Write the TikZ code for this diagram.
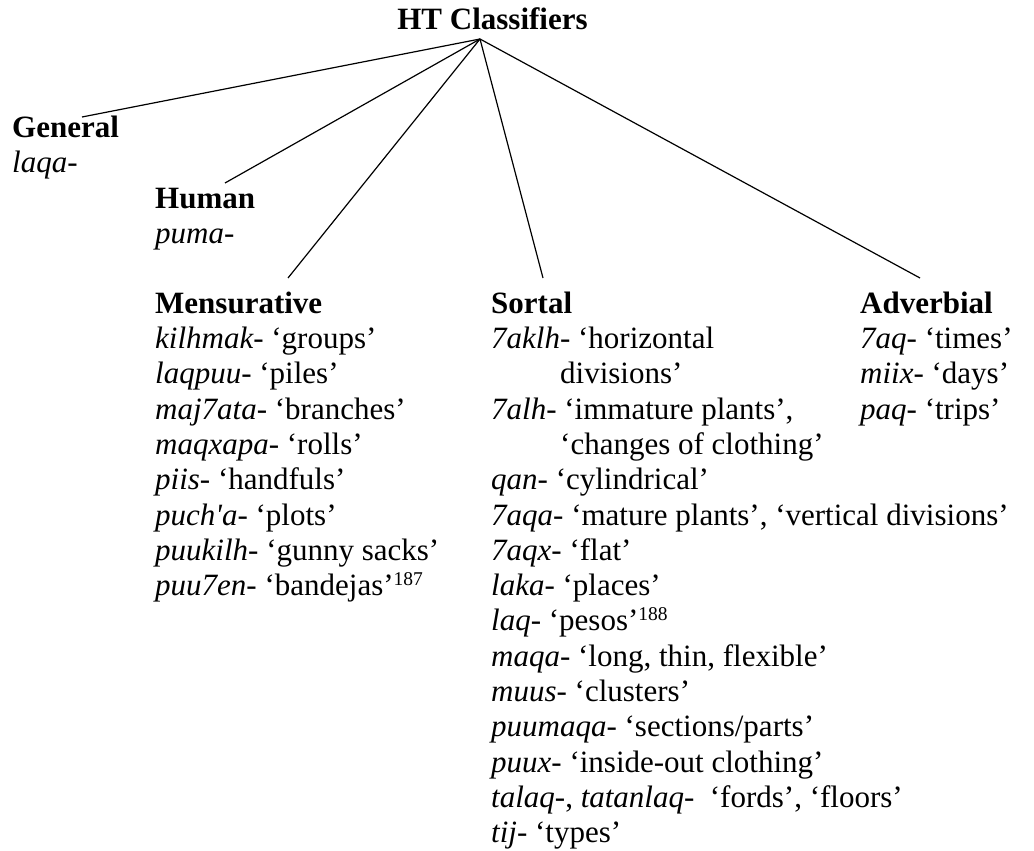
\documentclass[tikz,border=0pt]{standalone}
\usepackage{fontspec}
\setmainfont{Liberation Serif}
\usepackage{tikz}
\usetikzlibrary{calc}
\newcommand\classfont{\fontsize{31}{35.3}\selectfont}
\newcommand\supnum[1]{\raisebox{10.5pt}{\fontsize{19.5}{19.5}\selectfont #1}}
\tikzset{
	group/.style={align=left, inner sep=0pt, anchor=north west, font=\classfont},
	branch/.style={line width=1.2pt}
}

\begin{document}
\begin{tikzpicture}[x=1pt, y=1pt]
	\useasboundingbox (0,0) rectangle (1034,-851);
	
	%% -- Root of the tree
	\node[font=\classfont\bfseries, inner sep=0pt, anchor=base] (root)
	at (492.5,-30) {HT Classifiers};
	\coordinate (apex) at ($(root.base)+(-12.5,-9)$);
	
	%% -- Classifier groups
	\node[group] (gen) at (12,-112.3)
	{\strut\textbf{General}\\
		\textit{laqa-}};
	
	\node[group] (hum) at (155,-183.3)
	{\strut\textbf{Human}\\
		\textit{puma-}};
	
	\node[group] (mens) at (155,-288.3)
	{\strut\textbf{Mensurative}\\
		\textit{kilhmak-} ‘groups’\\
		\textit{laqpuu-} ‘piles’\\
		\textit{maj7ata-} ‘branches’\\
		\textit{maqxapa-} ‘rolls’\\
		\textit{piis-} ‘handfuls’\\
		\textit{puch\textquotesingle a-} ‘plots’\\
		\textit{puukilh-} ‘gunny sacks’\\
		\textit{puu7en-} ‘bandejas’\supnum{187}};
	
	\node[group] (sort) at (491,-288.3)
	{\strut\textbf{Sortal}\\
		\textit{7aklh-} ‘horizontal\\
		\hspace*{69pt}divisions’\\
		\textit{7alh-} ‘immature plants’,\\
		\hspace*{69pt}‘changes of clothing’\\
		\textit{qan-} ‘cylindrical’\\
		\textit{7aqa-} ‘mature plants’, ‘vertical divisions’\\
		\textit{7aqx-} ‘flat’\\
		\textit{laka-} ‘places’\\
		\textit{laq-} ‘pesos’\supnum{188}\\
		\textit{maqa-} ‘long, thin, flexible’\\
		\textit{muus-} ‘clusters’\\
		\textit{puumaqa-} ‘sections/parts’\\
		\textit{puux-} ‘inside-out clothing’\\
		\textit{talaq-}, \textit{tatanlaq-}\ \ ‘fords’, ‘floors’\\
		\textit{tij-} ‘types’};
	
	\node[group] (adv) at (860,-288.3)
	{\strut\textbf{Adverbial}\\
		\textit{7aq-} ‘times’\\
		\textit{miix-} ‘days’\\
		\textit{paq-} ‘trips’};
	
	%% -- Branches from the root
	\draw[branch] (apex) -- ($(gen.north west)+(70,-4.7)$);
	\draw[branch] (apex) -- ($(hum.north west)+(70,0.3)$);
	\draw[branch] (apex) -- ($(mens.north west)+(133,10.3)$);
	\draw[branch] (apex) -- ($(sort.north west)+(52,10.3)$);
	\draw[branch] (apex) -- ($(adv.north west)+(60,10.3)$);
	
\end{tikzpicture}
\end{document}
